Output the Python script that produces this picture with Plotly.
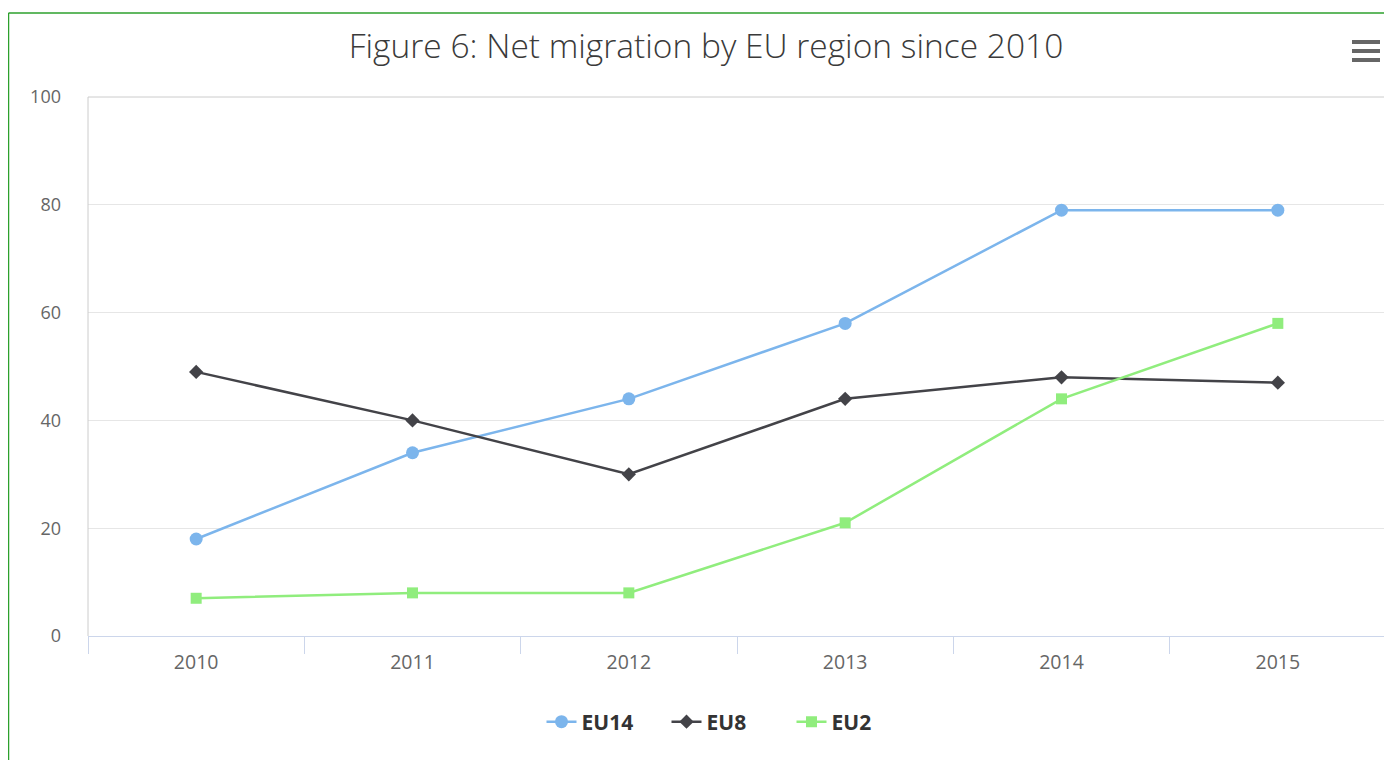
# -*- coding: utf-8 -*-

from plotly.graph_objects import Figure, Scatter

##################################################
# data
##################################################

years = ['2010', '2011', '2012', '2013', '2014', '2015']

eu14 = [18, 34, 44, 58, 79, 79]
eu8 = [49, 40, 30, 44, 48, 47]
eu2 = [7, 8, 8, 21, 44, 58]

series_names = ['EU14', 'EU8', 'EU2']

colors = {
    'EU14': '#7cb5ec',
    'EU8': '#434348',
    'EU2': '#90ed7d',
    'text': '#333333',
    'label': '#666666',
    'grid': '#e6e6e6',
    'axis': '#ccd6eb',
    'border': '#cccccc',
    'frame': '#2ca02c',
}

markers = {
    'EU14': ('circle', 13),
    'EU8': ('diamond', 11),
    'EU2': ('square', 11),
}

##################################################
# figure
##################################################

# page body has an 8px margin, so the figure is laid out 8px in from the corner
fig_w, fig_h = 1384, 752
margin = {'l': 80, 'r': 6, 't': 89, 'b': 124}
plot_w = fig_w - margin['l'] - margin['r']
plot_h = fig_h - margin['t'] - margin['b']


def px_x(x):
    # screen pixel -> paper x
    return (x - 8 - margin['l']) / plot_w


def px_y(y):
    # screen pixel -> paper y
    return 1 + (margin['t'] - (y - 8)) / plot_h


data = []
for name, values in zip(series_names, [eu14, eu8, eu2]):
    symbol, size = markers[name]
    data.append(
        Scatter(
            {
                'x': years,
                'y': values,
                'name': name,
                'mode': 'lines+markers',
                'line': {'color': colors[name], 'width': 2.5},
                'marker': {'symbol': symbol, 'size': size, 'color': colors[name]},
            }
        )
    )

fig = Figure(
    {
        'data': data,
        'layout': {
            'width': fig_w,
            'height': fig_h,
            'margin': margin,
            'plot_bgcolor': 'white',
            'paper_bgcolor': 'white',
            'font': {'family': 'Open Sans, Noto Sans, sans-serif', 'color': colors['text']},
            'title': {
                'text': 'Figure 6: Net migration by EU region since 2010',
                'x': (706 - 8) / fig_w,
                'xanchor': 'center',
                'y': 1 - (46 - 8) / fig_h,
                'yanchor': 'middle',
                'font': {'size': 33.5, 'color': '#3a3a3a', 'family': 'Open Sans, sans-serif',
                         'weight': 300},
            },
            'xaxis': {
                'type': 'category',
                'range': [-0.5, 5.5],
                'showgrid': False,
                'ticks': 'outside',
                'tickson': 'boundaries',
                'ticklen': 17,
                'tickcolor': colors['axis'],
                'showline': True,
                'linecolor': colors['axis'],
                'linewidth': 1,
                'tickfont': {'size': 19.5, 'color': colors['label']},
                'ticklabelstandoff': 9,
            },
            'yaxis': {
                'range': [0, 100],
                'tickvals': [0, 20, 40, 60, 80, 100],
                'showgrid': True,
                'gridcolor': colors['grid'],
                'zeroline': False,
                'showline': False,
                'tickfont': {'size': 18, 'color': colors['label']},
                'ticklabelstandoff': 26,
            },
            'legend': {
                'orientation': 'h',
                'x': px_x(729),
                'xanchor': 'center',
                'y': px_y(722),
                'yanchor': 'middle',
                'font': {'size': 21, 'color': colors['text'], 'family': 'Open Sans, sans-serif',
                         'weight': 'bold'},
                'itemwidth': 30,
                'entrywidth': 80,
                'traceorder': 'normal',
            },
            'showlegend': True,
        }
    }
)

# plot area border (top, left, right)
for x0, x1, y0, y1 in [(0, 1, 1, 1), (0, 0, 0, 1), (1, 1, 0, 1)]:
    fig.add_shape(type='line', xref='paper', yref='paper', x0=x0, x1=x1, y0=y0, y1=y1,
                  line={'color': colors['border'], 'width': 1})

# green frame around the chart container (top and left edges)
frame_left = px_x(8.5)
frame_top = px_y(13)
fig.add_shape(type='line', xref='paper', yref='paper', x0=frame_left, x1=px_x(1400),
              y0=frame_top, y1=frame_top, line={'color': colors['frame'], 'width': 1.5})
fig.add_shape(type='line', xref='paper', yref='paper', x0=frame_left, x1=frame_left,
              y0=px_y(770), y1=frame_top, line={'color': colors['frame'], 'width': 1.5})

# menu icon (three bars)
for py in [42, 51, 60]:
    fig.add_shape(type='line', xref='paper', yref='paper', x0=px_x(1352), x1=px_x(1380),
                  y0=px_y(py), y1=px_y(py), line={'color': '#666666', 'width': 4})

fig.write_html('out.html')
